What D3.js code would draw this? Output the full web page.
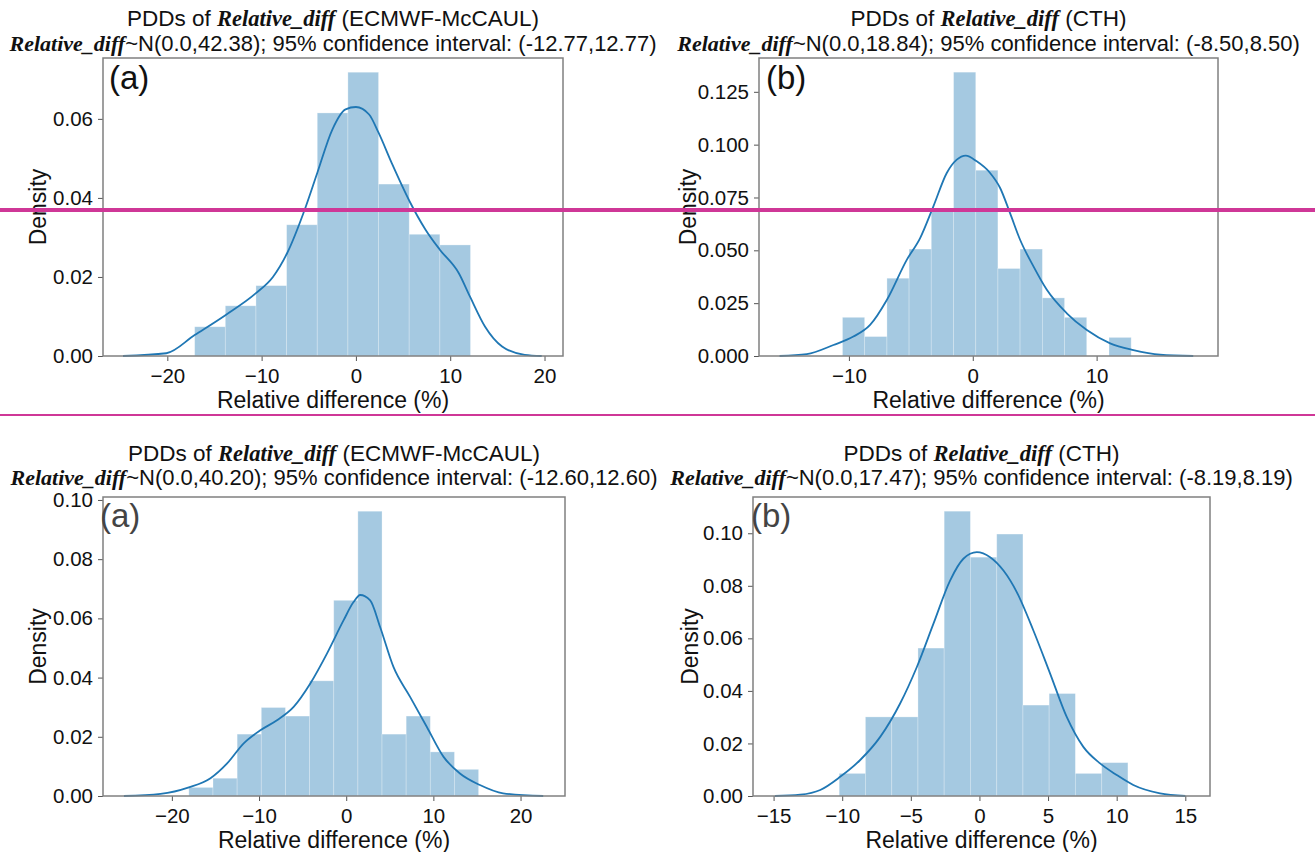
<!DOCTYPE html>
<html>
<head>
<meta charset="utf-8">
<script src="https://cdn.jsdelivr.net/npm/d3@7"></script>
<style>
  body { margin: 0; background: #fff; }
  text { font-family: "Liberation Sans", Arial, sans-serif; fill: #111; }
  .hl { font-family: "Liberation Serif", "Times New Roman", serif; font-weight: bold; font-style: italic; }
</style>
</head>
<body>
<svg width="1315" height="852"></svg>
<script>
// panel (a) top: ECMWF-McCAUL
const edgesTL = [-17.1, -13.85, -10.6, -7.35, -4.1, -0.85, 2.4, 5.65, 8.9, 12.15];
const densTL = [0.0074, 0.0127, 0.0178, 0.0332, 0.0615, 0.0718, 0.0435, 0.0308, 0.0281];
const kdeXTL = [-24.7, -20.1, -17.1, -13.8, -10.6, -8.8, -7.3, -5.3, -4.1, -2.5, -1.1, 0.0, 1.4, 2.4, 3.8, 5.7, 7.4, 8.9, 10.9, 12.1, 13.7, 15.5, 17.9, 19.7];
const kdeYTL = [0, 0.0007, 0.0053, 0.0104, 0.0159, 0.020, 0.026, 0.0379, 0.0463, 0.0573, 0.0624, 0.0630, 0.0611, 0.0565, 0.0488, 0.0391, 0.0319, 0.0269, 0.0210, 0.0150, 0.0074, 0.0024, 0.0003, 0];

// panel (b) top: CTH
const edgesTR = [-10.52, -8.73, -6.93, -5.14, -3.35, -1.55, 0.24, 2.03, 3.82, 5.62, 7.41, 9.2, 11.0, 12.79];
const densTR = [0.0183, 0.0092, 0.0368, 0.0506, 0.069, 0.1343, 0.0879, 0.0414, 0.0506, 0.0275, 0.0183, 0, 0.0088];
const kdeXTR = [-15.6, -13.4, -11.25, -9.64, -8.29, -6.94, -5.33, -4.25, -3.18, -2.1, -1.29, -0.57, 0.32, 1.4, 2.21, 3.01, 3.82, 4.9, 5.98, 7.59, 9.21, 11.09, 12.97, 15.13, 17.8];
const kdeYTR = [0, 0.0009, 0.0052, 0.0092, 0.0147, 0.0265, 0.0455, 0.0558, 0.0708, 0.0866, 0.0929, 0.0948, 0.0921, 0.0866, 0.0795, 0.0676, 0.055, 0.0424, 0.0313, 0.0202, 0.0123, 0.006, 0.0028, 0.0006, 0];

// panel (a) bottom: ECMWF-McCAUL
const edgesBL = [-18.05, -15.28, -12.51, -9.74, -6.97, -4.2, -1.43, 1.34, 4.11, 6.88, 9.65, 12.42, 15.19];
const densBL = [0.0029, 0.006, 0.0209, 0.0299, 0.027, 0.0389, 0.0661, 0.0962, 0.0209, 0.027, 0.0149, 0.009];
const kdeXBL = [-25.5, -21.3, -18.05, -15.57, -13.66, -11.76, -9.85, -7.94, -6.03, -4.12, -2.21, -0.31, 0.84, 1.6, 2.75, 3.89, 5.42, 7.33, 9.24, 11.15, 13.05, 15.34, 18.0, 22.6];
const kdeYBL = [0, 0.0007, 0.0029, 0.006, 0.011, 0.0178, 0.0222, 0.0256, 0.0301, 0.038, 0.0481, 0.0593, 0.0655, 0.0679, 0.0661, 0.0571, 0.0436, 0.0335, 0.0234, 0.0133, 0.0076, 0.0037, 0.0009, 0];

// panel (b) bottom: CTH
const edgesBR = [-10.22, -8.31, -6.39, -4.48, -2.57, -0.66, 1.26, 3.17, 5.08, 6.99, 8.91, 10.82];
const densBR = [0.0086, 0.0301, 0.0301, 0.0563, 0.1084, 0.0909, 0.0997, 0.0346, 0.039, 0.0086, 0.0127];
const kdeXBR = [-14.9, -13.06, -11.6, -10.15, -8.69, -7.23, -5.78, -4.56, -3.35, -2.14, -1.17, -0.19, 0.78, 1.75, 2.72, 3.93, 5.15, 6.36, 7.57, 8.79, 10.0, 11.21, 13.16, 15.0];
const kdeYBR = [0, 0.0005, 0.0023, 0.0073, 0.0137, 0.0225, 0.0352, 0.0491, 0.0656, 0.082, 0.0903, 0.0928, 0.0909, 0.0858, 0.0776, 0.063, 0.0466, 0.0301, 0.0187, 0.0124, 0.008, 0.0042, 0.001, 0];

const titlesTop = ["ECMWF-McCAUL", "CTH"];
const statsTop = ["~N(0.0,42.38); 95% confidence interval: (-12.77,12.77)", "~N(0.0,18.84); 95% confidence interval: (-8.50,8.50)"];
const statsBottom = ["~N(0.0,40.20); 95% confidence interval: (-12.60,12.60)", "~N(0.0,17.47); 95% confidence interval: (-8.19,8.19)"];

const xTicksTL = [-20, -10, 0, 10, 20];
const yTicksTL = [0, 0.02, 0.04, 0.06];
const xTicksTR = [-10, 0, 10];
const yTicksTR = [0, 0.025, 0.05, 0.075, 0.1, 0.125];
const xTicksBL = [-20, -10, 0, 10, 20];
const yTicksBL = [0, 0.02, 0.04, 0.06, 0.08, 0.1];
const xTicksBR = [-15, -10, -5, 0, 5, 10, 15];
const yTicksBR = [0, 0.02, 0.04, 0.06, 0.08, 0.1];

const svg = d3.select("svg");

const panels = [
  { box: [103, 563, 58, 356], xd: [-26.82, 21.96], yd: [0, 0.0754], edges: edgesTL, dens: densTL, kx: kdeXTL, ky: kdeYTL,
    xt: xTicksTL, yt: yTicksTL, yfmt: ".2f", title: titlesTop[0], stats: statsTop[0], tag: "(a)", tagX: 109, tagY: 89, t1: 26, t2: 51, tagColor: "#111", ylx: 38 },
  { box: [759, 1218, 58, 356], xd: [-17.26, 19.8], yd: [0, 0.141], edges: edgesTR, dens: densTR, kx: kdeXTR, ky: kdeYTR,
    xt: xTicksTR, yt: yTicksTR, yfmt: ".3f", title: titlesTop[1], stats: statsTop[1], tag: "(b)", tagX: 766, tagY: 89, t1: 26, t2: 51, tagColor: "#111", ylx: 688 },
  { box: [103, 565, 497, 796], xd: [-27.9, 25.1], yd: [0, 0.101], edges: edgesBL, dens: densBL, kx: kdeXBL, ky: kdeYBL,
    xt: xTicksBL, yt: yTicksBL, yfmt: ".2f", title: titlesTop[0], stats: statsBottom[0], tag: "(a)", tagX: 100, tagY: 527, t1: 461, t2: 485, tagColor: "#444", ylx: 38 },
  { box: [753, 1210, 497, 796], xd: [-16.5, 16.8], yd: [0, 0.1138], edges: edgesBR, dens: densBR, kx: kdeXBR, ky: kdeYBR,
    xt: xTicksBR, yt: yTicksBR, yfmt: ".2f", title: titlesTop[1], stats: statsBottom[1], tag: "(b)", tagX: 751, tagY: 527, t1: 461, t2: 485, tagColor: "#444", ylx: 690 },
];

const minus = s => s.replace("-", "\u2212");

panels.forEach(p => {
  const [l, r, t, b] = p.box;
  const x = d3.scaleLinear().domain(p.xd).range([l, r]);
  const y = d3.scaleLinear().domain(p.yd).range([b, t]);
  const g = svg.append("g");

  // histogram bars
  g.selectAll("rect.bar").data(p.dens).enter().append("rect")
    .attr("x", (d, i) => x(p.edges[i]))
    .attr("width", (d, i) => x(p.edges[i + 1]) - x(p.edges[i]))
    .attr("y", d => y(d))
    .attr("height", d => b - y(d))
    .attr("fill", "#1f77b4")
    .attr("fill-opacity", 0.4)
    .attr("stroke", "#fff")
    .attr("stroke-opacity", 0.35)
    .attr("stroke-width", 0.8);

  // kde curve
  const line = d3.line().x(d => x(d[0])).y(d => y(d[1])).curve(d3.curveMonotoneX);
  g.append("path")
    .datum(p.kx.map((v, i) => [v, p.ky[i]]))
    .attr("d", line)
    .attr("fill", "none")
    .attr("stroke", "#1f77b4")
    .attr("stroke-width", 1.8);

  // axes
  const xa = g.append("g").attr("transform", `translate(0,${b})`)
    .call(d3.axisBottom(x).tickValues(p.xt).tickSize(5).tickFormat(d => minus(d3.format("d")(d))));
  const ya = g.append("g").attr("transform", `translate(${l},0)`)
    .call(d3.axisLeft(y).tickValues(p.yt).tickSize(5).tickFormat(d3.format(p.yfmt)));
  [xa, ya].forEach(a => {
    a.select(".domain").remove();
    a.selectAll(".tick line").attr("stroke", "#555").attr("stroke-width", 1);
    a.selectAll(".tick text").attr("font-size", 20.5).attr("fill", "#111")
      .style("font-family", "'Liberation Sans', Arial, sans-serif");
  });
  xa.selectAll(".tick text").attr("y", 12);
  ya.selectAll(".tick text").attr("x", -10);

  // frame
  g.append("rect").attr("x", l).attr("y", t).attr("width", r - l).attr("height", b - t)
    .attr("fill", "none").attr("stroke", "#808080").attr("stroke-width", 1.5);

  // labels
  g.append("text").attr("x", (l + r) / 2).attr("y", b + 52).attr("text-anchor", "middle")
    .attr("font-size", 23).text("Relative difference (%)");
  g.append("text").attr("transform", `translate(${p.ylx},${(t + b) / 2}) rotate(-90)`)
    .attr("text-anchor", "middle").attr("dy", "0.35em").attr("font-size", 23).text("Density");

  const t1 = g.append("text").attr("x", (l + r) / 2).attr("y", p.t1).attr("text-anchor", "middle").attr("font-size", 22.5);
  t1.append("tspan").text("PDDs of ");
  t1.append("tspan").attr("class", "hl").text("Relative_diff");
  t1.append("tspan").text(` (${p.title})`);
  const t2 = g.append("text").attr("x", (l + r) / 2).attr("y", p.t2).attr("text-anchor", "middle").attr("font-size", 22);
  t2.append("tspan").attr("class", "hl").text("Relative_diff");
  t2.append("tspan").text(p.stats);

  g.append("text").attr("x", p.tagX).attr("y", p.tagY).attr("font-size", 33)
    .style("fill", p.tagColor).text(p.tag);
});

// highlight strokes across the figure
svg.append("rect").attr("x", 0).attr("y", 208).attr("width", 1315).attr("height", 4).attr("fill", "#cf3797");
svg.append("rect").attr("x", 0).attr("y", 414).attr("width", 1315).attr("height", 2).attr("fill", "#cf3797");
</script>
</body>
</html>
